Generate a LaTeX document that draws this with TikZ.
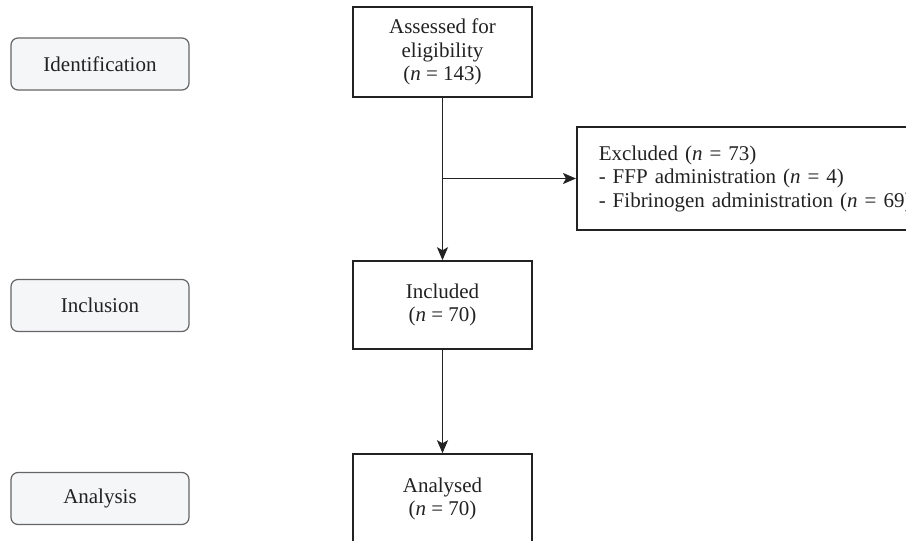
\documentclass[tikz,border=0pt]{standalone}
\usepackage{fontspec}
\setmainfont{Liberation Serif}
\usetikzlibrary{arrows.meta}
\definecolor{linec}{HTML}{222222}
\definecolor{stagefill}{HTML}{F5F6F8}
\definecolor{stageline}{HTML}{666666}
\begin{document}
\begin{tikzpicture}[x=1pt,y=-1pt,
  every node/.style={font=\fontsize{21}{23.5}\selectfont, text=linec},
  stagebox/.style={draw=stageline, fill=stagefill, line width=1.2pt, rounded corners=7pt,
    minimum width=178pt, minimum height=52pt, inner sep=0pt},
  flowbox/.style={draw=linec, line width=1.5pt, minimum width=179pt, inner sep=0pt, align=center},
  exbox/.style={draw=linec, line width=1.5pt, align=left, inner xsep=22pt, inner ysep=0pt,
    text width=360pt, minimum height=103pt},
  arr/.style={draw=linec, line width=1.4pt, -{Stealth[length=13pt,width=11pt,inset=3pt]}}
]
\useasboundingbox (0,0) rectangle (906,541);
\clip (0,0) rectangle (906,541);

% stage labels
\node[stagebox] (ident) at (100,64) {Identification};
\node[stagebox] (incl)  at (100,305.5) {Inclusion};
\node[stagebox] (anal)  at (100,498.5) {Analysis};

% flow boxes
\node[flowbox, minimum height=90pt] (assess) at (442.5,52) {Assessed for\\eligibility\\(\textit{n} = 143)};
\node[flowbox, minimum height=88pt] (included) at (442.5,305) {Included\\(\textit{n} = 70)};
\node[flowbox, minimum height=90pt] (analysed) at (442.5,499) {Analysed\\(\textit{n} = 70)};

\node[exbox, anchor=west] (excl) at (576,178.5)
  {\raisebox{0pt}[\height][\depth]{}Excluded (\textit{n} = 73)\\- FFP administration (\textit{n} = 4)\\- Fibrinogen administration (\textit{n} = 69)};

\coordinate (branch) at (assess.south |- excl.west);

% connectors
\draw[arr] (assess.south) -- (included.north);
\draw[arr] (branch) -- (excl.west);
\draw[arr] (included.south) -- (analysed.north);
\end{tikzpicture}
\end{document}
